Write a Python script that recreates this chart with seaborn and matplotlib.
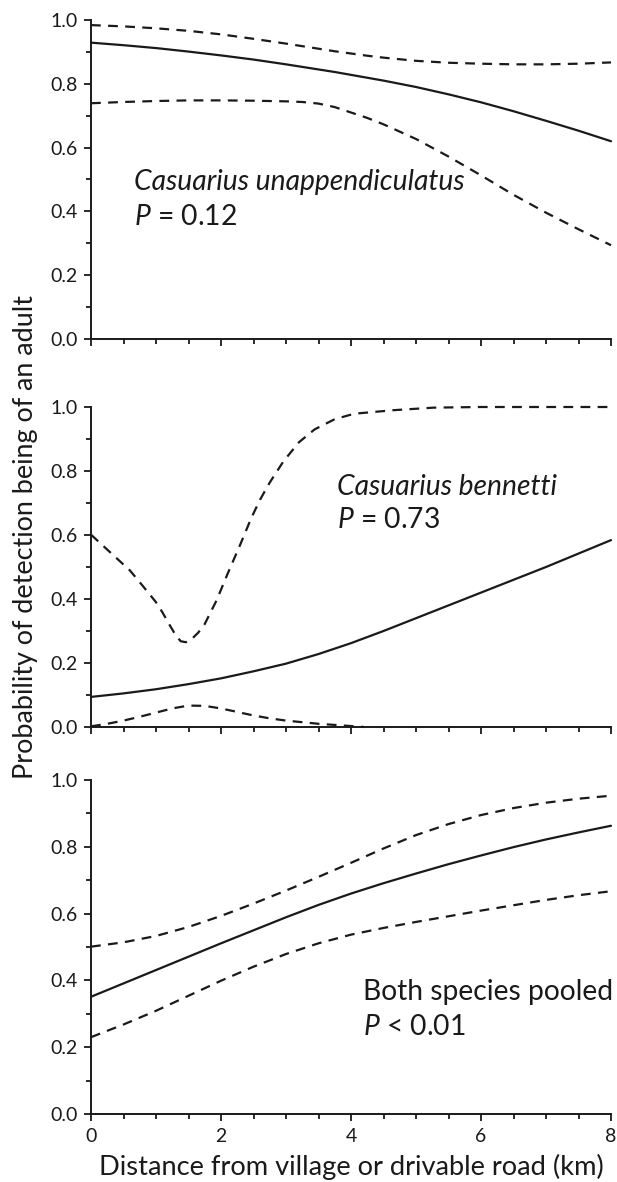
import numpy as np
import pandas as pd
import seaborn as sns
import matplotlib.pyplot as plt
from matplotlib.ticker import MultipleLocator, FormatStrFormatter

# Data
# Panel 1: Casuarius unappendiculatus
x1 = [0, 0.5, 1, 1.5, 2, 2.5, 3, 3.25, 3.5, 3.75, 4, 4.25, 4.5, 5, 5.5, 6, 6.5, 7, 7.5, 8]
est1 = [0.929, 0.921, 0.912, 0.901, 0.889, 0.876, 0.861, 0.853, 0.845, 0.837, 0.828,
        0.819, 0.81, 0.79, 0.767, 0.742, 0.714, 0.684, 0.653, 0.62]
upp1 = [0.984, 0.98, 0.974, 0.966, 0.955, 0.941, 0.926, 0.918, 0.91, 0.902, 0.895,
        0.888, 0.882, 0.872, 0.866, 0.863, 0.861, 0.861, 0.863, 0.867]
low1 = [0.739, 0.743, 0.746, 0.748, 0.748, 0.747, 0.745, 0.743, 0.738, 0.727, 0.71,
        0.693, 0.673, 0.627, 0.572, 0.513, 0.452, 0.396, 0.344, 0.294]

# Panel 2: Casuarius bennetti
x2_est = [0, 0.5, 1, 1.5, 2, 2.5, 3, 3.5, 4, 4.5, 5, 5.5, 6, 6.5, 7, 7.5, 8]
est2 = [0.094, 0.105, 0.118, 0.134, 0.152, 0.174, 0.198, 0.228, 0.262, 0.3, 0.34,
        0.38, 0.42, 0.46, 0.50, 0.542, 0.584]
x2_upp = [0, 0.3, 0.6, 0.8, 1.0, 1.1, 1.2, 1.3, 1.38, 1.46, 1.55, 1.65, 1.75, 1.93,
          2.1, 2.3, 2.47, 2.6, 2.75, 2.96, 3.2, 3.44, 3.75, 4.05, 4.65, 5.27, 6, 7, 8]
upp2 = [0.601, 0.545, 0.489, 0.44, 0.39, 0.358, 0.322, 0.288, 0.268, 0.265, 0.275,
        0.295, 0.322, 0.395, 0.478, 0.572, 0.655, 0.71, 0.764, 0.83, 0.89, 0.93,
        0.962, 0.979, 0.99, 0.998, 1.0, 1.0, 1.0]
x2_low = [0, 0.25, 0.5, 0.75, 1, 1.25, 1.5, 1.75, 2, 2.25, 2.5, 2.75, 3, 3.5, 4, 4.2]
low2 = [0.002, 0.01, 0.02, 0.032, 0.045, 0.058, 0.067, 0.066, 0.058, 0.047, 0.036,
        0.027, 0.02, 0.01, 0.003, 0.0]

# Panel 3: both species pooled
x3 = [0, 0.5, 1, 1.5, 2, 2.5, 3, 3.5, 4, 4.5, 5, 5.5, 6, 6.5, 7, 7.5, 8]
est3 = [0.351, 0.391, 0.431, 0.471, 0.511, 0.55, 0.589, 0.626, 0.66, 0.691, 0.72,
        0.748, 0.774, 0.799, 0.822, 0.843, 0.863]
upp3 = [0.501, 0.514, 0.533, 0.56, 0.593, 0.63, 0.669, 0.71, 0.752, 0.795, 0.835,
        0.868, 0.895, 0.916, 0.932, 0.944, 0.953]
low3 = [0.23, 0.268, 0.309, 0.354, 0.399, 0.441, 0.479, 0.511, 0.537, 0.557, 0.575,
        0.592, 0.609, 0.625, 0.641, 0.655, 0.667]

labels = ['Casuarius unappendiculatus', 'Casuarius bennetti', 'Both species pooled']
pvals = ['$P$ = 0.12', '$P$ = 0.73', '$P$ < 0.01']


def long_df(parts):
    rows = []
    for name, xs, ys in parts:
        rows.append(pd.DataFrame({'x': xs, 'p': ys, 'curve': name}))
    return pd.concat(rows, ignore_index=True)


data = [
    long_df([('est', x1, est1), ('upper', x1, upp1), ('lower', x1, low1)]),
    long_df([('est', x2_est, est2), ('upper', x2_upp, upp2), ('lower', x2_low, low2)]),
    long_df([('est', x3, est3), ('upper', x3, upp3), ('lower', x3, low3)]),
]

sns.set_style('ticks')
plt.rcParams['font.family'] = ['Lato', 'DejaVu Sans']
plt.rcParams['mathtext.fontset'] = 'custom'
plt.rcParams['mathtext.it'] = 'Lato:italic'
plt.rcParams['mathtext.rm'] = 'Lato'
ink = '#1a1a1a'
plt.rcParams['text.color'] = ink

fig = plt.figure(figsize=(6.17, 11.82), dpi=100)
W, H = 617, 1182
left, right = 91, 611
# (top px, bottom px) of each panel
boxes = [(20, 339), (407, 727), (780, 1114)]
# text anchor (left px, centre y px of name, centre y px of P)
text_pos = [(134, 182, 217), (337, 487, 520), (363, 992, 1027)]


def fit_width(txt, target_px):
    # scale the font so the text is as wide as in the reference
    r = fig.canvas.get_renderer()
    bb = txt.get_window_extent(renderer=r)
    w = bb.height if txt.get_rotation() == 90 else bb.width
    txt.set_fontsize(txt.get_fontsize() * target_px / w)
    return txt.get_fontsize()


pal = {'est': ink, 'upper': ink, 'lower': ink}
dash = {'est': '', 'upper': (4.4, 3.3), 'lower': (4.4, 3.3)}

name_size = None
for i, df in enumerate(data):
    top, bot = boxes[i]
    ax = fig.add_axes([left / W, 1 - bot / H, (right - left) / W, (bot - top) / H])
    sns.lineplot(data=df, x='x', y='p', hue='curve', style='curve', palette=pal,
                 dashes=dash, estimator=None, sort=False, linewidth=1.6,
                 legend=False, ax=ax)
    for ln in ax.lines:
        ln.set_clip_on(False)
    ax.set_xlim(0, 8)
    ax.set_ylim(0, 1)
    ax.xaxis.set_major_locator(MultipleLocator(2))
    ax.xaxis.set_minor_locator(MultipleLocator(0.5))
    ax.yaxis.set_major_locator(MultipleLocator(0.2))
    ax.yaxis.set_minor_locator(MultipleLocator(0.1))
    ax.yaxis.set_major_formatter(FormatStrFormatter('%.1f'))
    ax.tick_params(which='major', length=5, width=1.3, labelsize=14, pad=4.5,
                   colors=ink)
    ax.tick_params(which='minor', length=3.8, width=1.3, colors=ink)
    for s in ['left', 'bottom']:
        ax.spines[s].set_linewidth(1.4)
        ax.spines[s].set_color(ink)
    sns.despine(ax=ax)
    ax.set_xlabel('')
    ax.set_ylabel('')
    if i < 2:
        ax.tick_params(axis='x', labelbottom=False)
    else:
        ax.tick_params(axis='x', pad=5)

    tx, ty1, ty2 = text_pos[i]
    style = 'italic' if i < 2 else 'normal'
    t1 = fig.text(tx / W, 1 - ty1 / H, labels[i], fontsize=15, style=style,
                  ha='left', va='center')
    if name_size is None:
        name_size = fit_width(t1, 331)
    t1.set_fontsize(name_size)
    fig.text(tx / W, 1 - ty2 / H, pvals[i], fontsize=name_size, ha='left',
             va='center')

yl = fig.text(26 / W, 1 - 537 / H, 'Probability of detection being of an adult',
              rotation=90, fontsize=15, ha='center', va='center')
fit_width(yl, 485)
xl = fig.text(351 / W, 1 - 1167 / H, 'Distance from village or drivable road (km)',
              fontsize=15, ha='center', va='center')
fit_width(xl, 506)

fig.savefig('out.png', dpi=100)
